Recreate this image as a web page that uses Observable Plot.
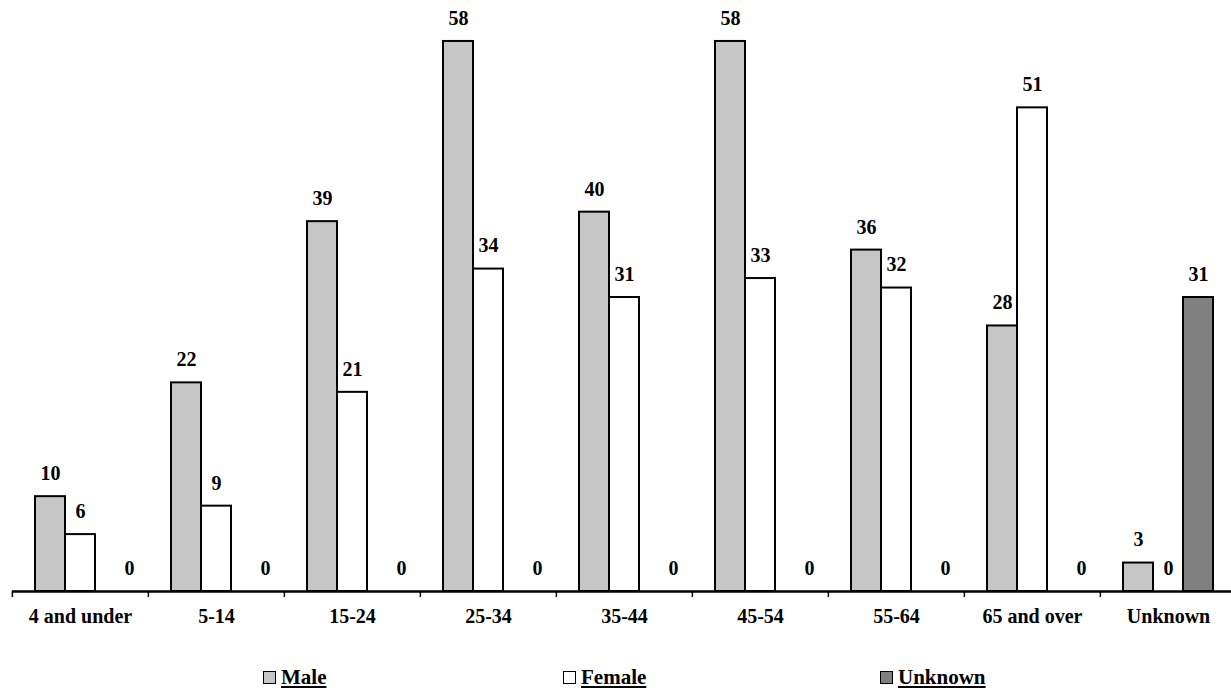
<!DOCTYPE html>
<html>
<head>
<meta charset="utf-8">
<script src="https://cdn.jsdelivr.net/npm/d3@7"></script>
<script src="https://cdn.jsdelivr.net/npm/@observablehq/plot@0.6"></script>
<style>
  html, body { margin: 0; padding: 0; background: #ffffff; overflow: hidden; }
  #wrap { position: relative; width: 1231px; height: 690px; }
  .legend { position: absolute; top: 665px; left: 0; width: 1231px; height: 26px;
            font-family: "Liberation Serif", "Times New Roman", serif; font-weight: bold; font-size: 21px; color: #000; }
  .item { position: absolute; top: 0; display: flex; align-items: center; }
  .sw { width: 11px; height: 11px; border: 1.5px solid #000; margin-right: 5px; display: inline-block; }
  .lbl { text-decoration: underline; text-underline-offset: 2px; }
</style>
</head>
<body>
<div id="wrap">
  <div id="chart"></div>
  <div class="legend" id="legend"></div>
</div>
<script>
const categories = ["4 and under", "5-14", "15-24", "25-34", "35-44", "45-54", "55-64", "65 and over", "Unknown"];
const series = ["Male", "Female", "Unknown"];
const maleValues = [10, 22, 39, 58, 40, 58, 36, 28, 3];
const femaleValues = [6, 9, 21, 34, 31, 33, 32, 51, 0];
const unknownValues = [0, 0, 0, 0, 0, 0, 0, 0, 31];
const seriesColors = ["#c6c6c6", "#ffffff", "#808080"];

const data = categories.flatMap((c, i) => [
  {category: c, series: "Male", value: maleValues[i]},
  {category: c, series: "Female", value: femaleValues[i]},
  {category: c, series: "Unknown", value: unknownValues[i]}
]);
// Excel places the labels of empty "Unknown" bars a little to the right
const isShiftedZero = d => d.series === "Unknown" && d.value === 0;

const fxStart = 10.7, fxEnd = 1237;
const step = (fxEnd - fxStart) / categories.length;
const font = '"Liberation Serif", "Times New Roman", serif';
const textOpts = {fx: "category", x: "series", y: "value", text: d => String(d.value), dy: -23,
  fontWeight: "bold", fontSize: 20, fontFamily: font, fill: "#000"};

const chart = Plot.plot({
  width: 1231,
  height: 645,
  marginTop: 22,
  marginBottom: 54,
  marginLeft: 0,
  marginRight: 0,
  style: {fontFamily: font, fontWeight: "bold", fontSize: "20px", background: "#ffffff", color: "#000"},
  fx: {domain: categories, range: [fxStart, fxEnd], padding: 0, label: null},
  x: {domain: series, paddingInner: 0, paddingOuter: 0.7, axis: null},
  y: {domain: [0, 60], axis: null},
  color: {domain: series, range: seriesColors},
  marks: [
    Plot.barY(data, {fx: "category", x: "series", y: "value", fill: "series", stroke: "#000", strokeWidth: 2}),
    Plot.text(data.filter(d => !isShiftedZero(d)), textOpts),
    Plot.text(data.filter(isShiftedZero), {...textOpts, dx: 19}),
    Plot.ruleY([0], {stroke: "#000", strokeWidth: 2.5}),
    Plot.axisFx({anchor: "bottom", text: null, tickSize: 6, strokeWidth: 1.5, dx: -step / 2, label: null}),
    Plot.axisFx({anchor: "bottom", tickSize: 0, tickPadding: 17, label: null,
      fontSize: 20, fontWeight: "bold", fontFamily: font, fill: "#000"})
  ]
});
document.getElementById("chart").appendChild(chart);

// Legend
const legendPos = [263, 563, 880];
const legend = document.getElementById("legend");
series.forEach((s, i) => {
  const item = document.createElement("div");
  item.className = "item";
  item.style.left = legendPos[i] + "px";
  const sw = document.createElement("span");
  sw.className = "sw";
  sw.style.background = seriesColors[i];
  const lbl = document.createElement("span");
  lbl.className = "lbl";
  lbl.textContent = s;
  item.appendChild(sw);
  item.appendChild(lbl);
  legend.appendChild(item);
});
</script>
</body>
</html>
